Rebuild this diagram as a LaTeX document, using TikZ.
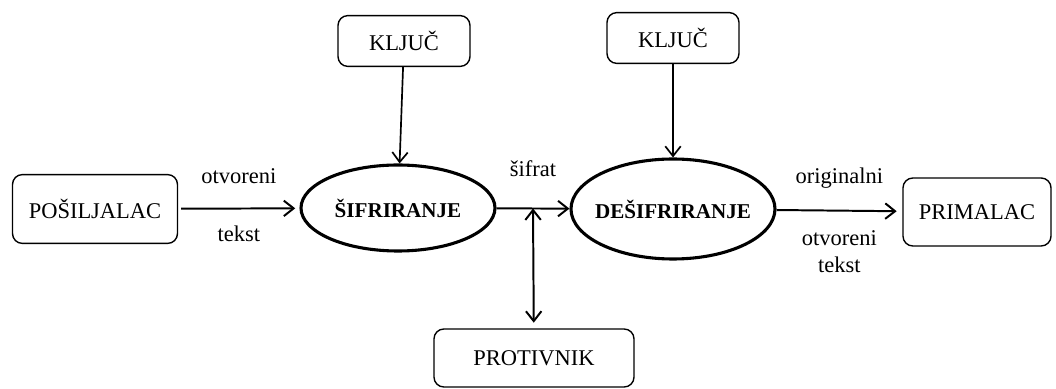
\documentclass[tikz,border=0pt]{standalone}
\usepackage{fontspec}
\setmainfont{Liberation Serif}
\usetikzlibrary{shapes, arrows.meta, positioning}

\begin{document}
\begin{tikzpicture}[
        font=\fontsize{16}{19}\selectfont,
        party/.style={draw, rectangle, rounded corners=7pt, line width=1pt, inner sep=0pt},
        stage/.style={draw, ellipse, line width=2.2pt, inner ysep=0pt, inner xsep=-0.3cm, font=\fontsize{15}{18}\selectfont\bfseries},
        flow/.style={-{Straight Barb[length=7pt, width=11pt]}, line width=1.4pt},
        keyflow/.style={-{Straight Barb[length=7pt, width=11pt]}, line width=1.2pt}
    ]
        \useasboundingbox (0,0) rectangle (26.4,9.725);

        \node[party, minimum width=4.125cm, minimum height=1.72cm] (sender) at (2.375,4.5) {POŠILJALAC};
        \node[stage, minimum width=4.85cm, minimum height=2.15cm] (encr) at (9.95,4.525) {ŠIFRIRANJE};
        \node[stage, minimum width=5.1cm, minimum height=2.5cm] (decr) at (16.825,4.5) {DEŠIFRIRANJE};
        \node[party, minimum width=3.7cm, minimum height=1.7cm] (receiver) at (24.425,4.425) {PRIMALAC};
        \node[party, minimum width=3.3cm, minimum height=1.27cm] (key1) at (10.1,8.7) {KLJUČ};
        \node[party, minimum width=3.3cm, minimum height=1.27cm] (key2) at (16.825,8.775) {KLJUČ};
        \node[party, minimum width=5.0cm, minimum height=1.45cm] (enemy) at (13.35,0.775) {PROTIVNIK};

        % Tok poruke
        \draw[flow, shorten <=2pt, shorten >=3pt] (sender) -- node[above=0.49cm] (plain1) {otvoreni} node[below=0.29cm] (plain2) {tekst} (encr);
        \draw[flow] (encr) -- coordinate[pos=0.5] (tap) node[above=0.66cm] (cipher) {šifrat} (decr);
        \draw[flow, shorten >=4pt] (decr) -- node[above=0.41cm] (orig) {originalni} node[below=0.36cm, align=center] (orig2) {otvoreni\\tekst} (receiver);

        % Kljucevi
        \draw[keyflow] (key1) -- (encr);
        \draw[keyflow] (key2) -- (decr);

        % Prisluskivanje
        \draw[flow, {Straight Barb[length=7pt, width=11pt]}-{Straight Barb[length=7pt, width=11pt]}, shorten >=4pt] (tap) -- (enemy);

    \end{tikzpicture}
\end{document}
